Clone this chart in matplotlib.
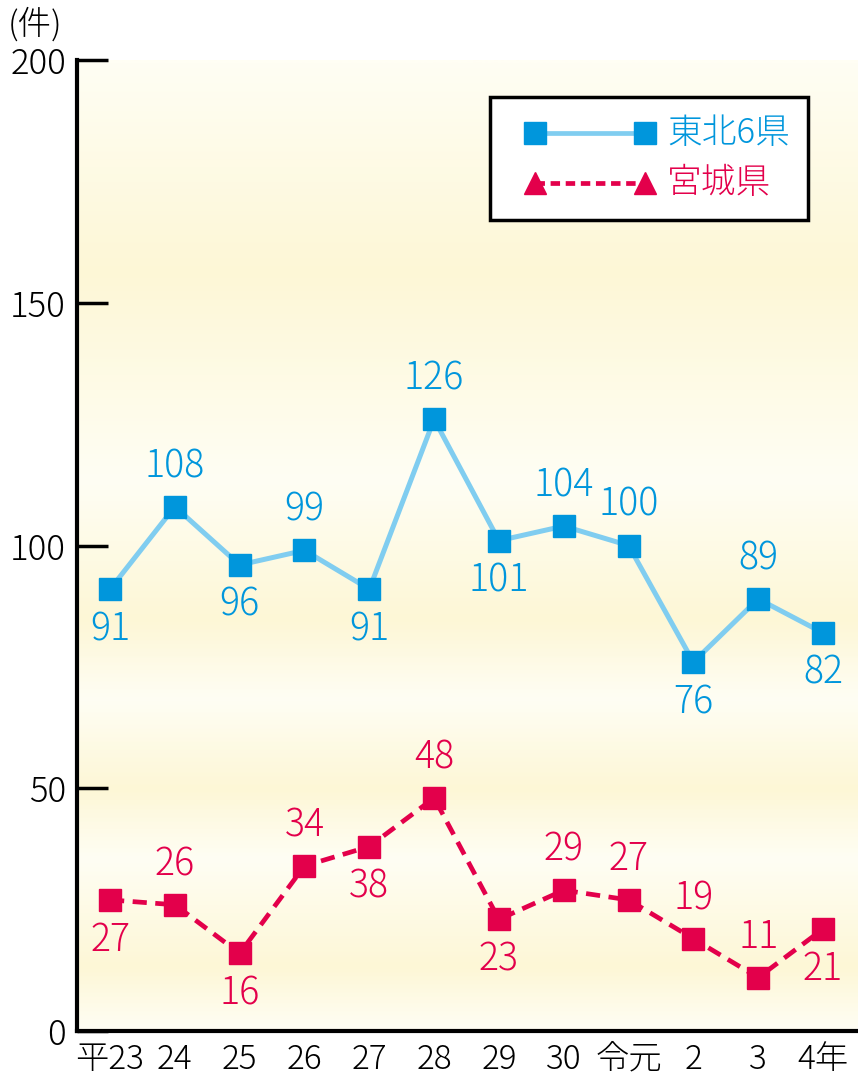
import matplotlib.pyplot as plt
import numpy as np
from matplotlib.colors import LinearSegmentedColormap
from matplotlib.lines import Line2D
from matplotlib.patches import Rectangle

plt.rcParams['font.family'] = ['Noto Sans CJK JP', 'DejaVu Sans']
plt.rcParams['font.weight'] = 'light'

# data
years = ["平23", "24", "25", "26", "27", "28", "29", "30", "令元", "2", "3", "4年"]
tohoku = [91, 108, 96, 99, 91, 126, 101, 104, 100, 76, 89, 82]
miyagi = [27, 26, 16, 34, 38, 48, 23, 29, 27, 19, 11, 21]
# label above (1) or below (-1) the point
tohoku_pos = [-1, 1, -1, 1, -1, 1, -1, 1, 1, -1, 1, -1]
miyagi_pos = [-1, 1, -1, 1, -1, 1, -1, 1, 1, 1, 1, -1]

blue = "#0096DC"
blue_line = "#80CDF0"
red = "#E3004B"

W, H = 858, 1076
fig = plt.figure(figsize=(W / 100, H / 100), dpi=100)
ax = fig.add_axes([77/W, 45/H, 1 - 77/W, 971/H])

x = np.arange(len(years))
ax.set_xlim(-0.51, 11.54)
ax.set_ylim(0, 200)

# background bands (pale yellow / white)
w = np.array([255, 254, 244]) / 255
yl = np.array([253, 247, 214]) / 255
stops = [(0.0, w), (0.063, yl), (0.176, w), (0.248, yl), (0.341, w), (0.423, yl),
         (0.567, w), (0.784, yl), (1.0, w)]
cmap = LinearSegmentedColormap.from_list("bg", stops)
grad = np.linspace(0, 1, 500).reshape(-1, 1)
ax.imshow(grad, cmap=cmap, aspect="auto", extent=[-0.51, 11.54, 0, 200],
          origin="lower", zorder=0)

ax.plot(x, tohoku, color=blue_line, lw=3.6, marker="s", ms=16.5,
        mfc=blue, mec=blue, zorder=3)
ax.plot(x, miyagi, color=red, lw=3.4, ls=(0, (3, 1.8)), marker="s", ms=16.5,
        mfc=red, mec=red, zorder=3)

for xi, v, p in zip(x, tohoku, tohoku_pos):
    ax.annotate(str(v), (xi, v), xytext=(0, 29 * p), textcoords="offset points",
                ha="center", va="center", fontsize=27, color=blue, zorder=4)
for xi, v, p in zip(x, miyagi, miyagi_pos):
    ax.annotate(str(v), (xi, v), xytext=(0, 29 * p), textcoords="offset points",
                ha="center", va="center", fontsize=27, color=red, zorder=4)

ax.set_xticks(x)
ax.set_xticklabels(years, fontsize=24)
ax.tick_params(axis="x", length=0, pad=8)
ax.set_yticks([0, 50, 100, 150, 200])
ax.tick_params(axis="y", direction="in", length=22, width=2.5, labelsize=25, pad=8)

for s in ["top", "right"]:
    ax.spines[s].set_visible(False)
ax.spines["left"].set_linewidth(3)
ax.spines["bottom"].set_linewidth(3)

fig.text(8/W, 1 - 25/H, "(件)", fontsize=24, va="center", ha="left")

# legend box drawn by hand (markers differ from the plotted ones)
fig.add_artist(Rectangle((490/W, 1 - 220/H), 318/W, 123/H, transform=fig.transFigure,
                         facecolor="white", edgecolor="black", lw=2.5, zorder=5))
leg_rows = [("東北6県", blue, blue_line, "-", "s", 133),
            ("宮城県", red, red, (0, (2, 1.2)), "^", 183)]
for label, c, lc, ls, mk, yy in leg_rows:
    fig.add_artist(Line2D([535/W, 645/W], [1 - yy/H, 1 - yy/H], transform=fig.transFigure,
                          color=lc, lw=3.4, ls=ls, marker=mk, ms=16, mfc=c, mec=c, zorder=6))
    fig.text(667/W, 1 - yy/H, label, fontsize=25, color=c, va="center", ha="left", zorder=7)

fig.savefig("out.png", dpi=100)
